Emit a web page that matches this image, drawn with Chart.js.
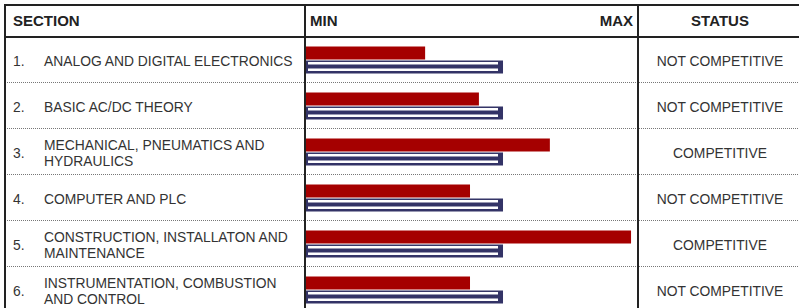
<!DOCTYPE html>
<html>
<head>
<meta charset="utf-8">
<script src="https://cdn.jsdelivr.net/npm/chart.js@4/dist/chart.umd.min.js"></script>
<style>
  html, body { margin: 0; padding: 0; background: #fff; overflow: hidden; }
  body { width: 799px; height: 308px; position: relative; font-family: "Liberation Sans", Arial, sans-serif; }
  .abs { position: absolute; }
  .hline { position: absolute; height: 0; }
  .vline { position: absolute; width: 2px; background: #222; }
  .hdr { position: absolute; top: 5px; height: 31px; display: flex; align-items: center; font-weight: bold; font-size: 15px; color: #222; }
  .cell { position: absolute; height: 44px; padding-top: 2px; display: flex; align-items: center; font-size: 13.85px; color: #333; line-height: 16.5px; }
</style>
</head>
<body>
<div id="grid"></div>
<canvas id="c" class="abs" width="330" height="276" style="left:306px; top:37px;"></canvas>
<script>
// ---- data ----
const rowNumbers = ["1.", "2.", "3.", "4.", "5.", "6."];
const sections = [
  "ANALOG AND DIGITAL ELECTRONICS",
  "BASIC AC/DC THEORY",
  "MECHANICAL, PNEUMATICS AND|HYDRAULICS",
  "COMPUTER AND PLC",
  "CONSTRUCTION, INSTALLATON AND|MAINTENANCE",
  "INSTRUMENTATION, COMBUSTION|AND CONTROL"
];
const statuses = [
  "NOT COMPETITIVE",
  "NOT COMPETITIVE",
  "COMPETITIVE",
  "NOT COMPETITIVE",
  "COMPETITIVE",
  "NOT COMPETITIVE"
];
const scoreValues = [36.1, 52.4, 73.9, 49.7, 98.5, 49.7];
const passingValues = [59.7, 59.7, 59.7, 59.7, 59.7, 59.7];
const headers = ["SECTION", "MIN", "MAX", "STATUS"];

// ---- table layout (HTML) ----
const grid = document.getElementById('grid');
function add(html) { grid.insertAdjacentHTML('beforeend', html); }
const rowTop0 = 37, rowH = 46;

// horizontal lines
add('<div class="abs" style="left:4px; top:4px; width:800px; height:2px; background:#222"></div>');
add('<div class="abs" style="left:4px; top:36px; width:800px; height:2px; background:#222"></div>');
for (let i = 1; i < sections.length; i++) {
  add(`<div class="hline" style="left:4px; top:${rowTop0 + i * rowH - 1}px; width:800px; border-top:1px dotted #777"></div>`);
}
// vertical lines
add('<div class="vline" style="left:4px; top:4px; height:310px"></div>');
add('<div class="vline" style="left:304px; top:4px; height:310px"></div>');
add('<div class="vline" style="left:637px; top:4px; height:310px"></div>');

// headers
add(`<div class="hdr" style="left:13px">${headers[0]}</div>`);
add(`<div class="hdr" style="left:310px">${headers[1]}</div>`);
add(`<div class="hdr" style="left:440px; width:193px; justify-content:flex-end">${headers[2]}</div>`);
add(`<div class="hdr" style="left:639px; width:162px; justify-content:center">${headers[3]}</div>`);

// rows
sections.forEach((s, i) => {
  const top = rowTop0 + i * rowH;
  add(`<div class="cell" style="left:13px; top:${top}px">${rowNumbers[i]}</div>`);
  add(`<div class="cell" style="left:44px; top:${top}px; width:258px">${s.split('|').join('<br>')}</div>`);
  add(`<div class="cell" style="left:639px; top:${top}px; width:162px; justify-content:center">${statuses[i]}</div>`);
});

// ---- chart ----
const stripePlugin = {
  id: 'stripes',
  afterDatasetsDraw(chart) {
    const ctx = chart.ctx;
    const meta = chart.getDatasetMeta(1);
    ctx.save();
    ctx.fillStyle = '#ffffff';
    meta.data.forEach(el => {
      const p = el.getProps(['x', 'y', 'base', 'height'], true);
      const top = p.y - p.height / 2;
      const left = p.base + 2;
      const w = (p.x - 5) - left;
      ctx.fillRect(left, top + 1.5, w, 2.5);
      ctx.fillRect(left, top + 8, w, 2.5);
    });
    ctx.restore();
  }
};

new Chart(document.getElementById('c'), {
  type: 'bar',
  data: {
    labels: sections,
    datasets: [
      { data: scoreValues, backgroundColor: '#a50000' },
      { data: passingValues, backgroundColor: '#333366' }
    ]
  },
  options: {
    indexAxis: 'y',
    responsive: false,
    animation: false,
    maintainAspectRatio: false,
    layout: { padding: 0 },
    datasets: { bar: { categoryPercentage: 0.6087, barPercentage: 0.93 } },
    plugins: { legend: { display: false }, tooltip: { enabled: false } },
    scales: {
      x: { display: false, min: 0, max: 100 },
      y: { display: false }
    }
  },
  plugins: [stripePlugin]
});
</script>
</body>
</html>
